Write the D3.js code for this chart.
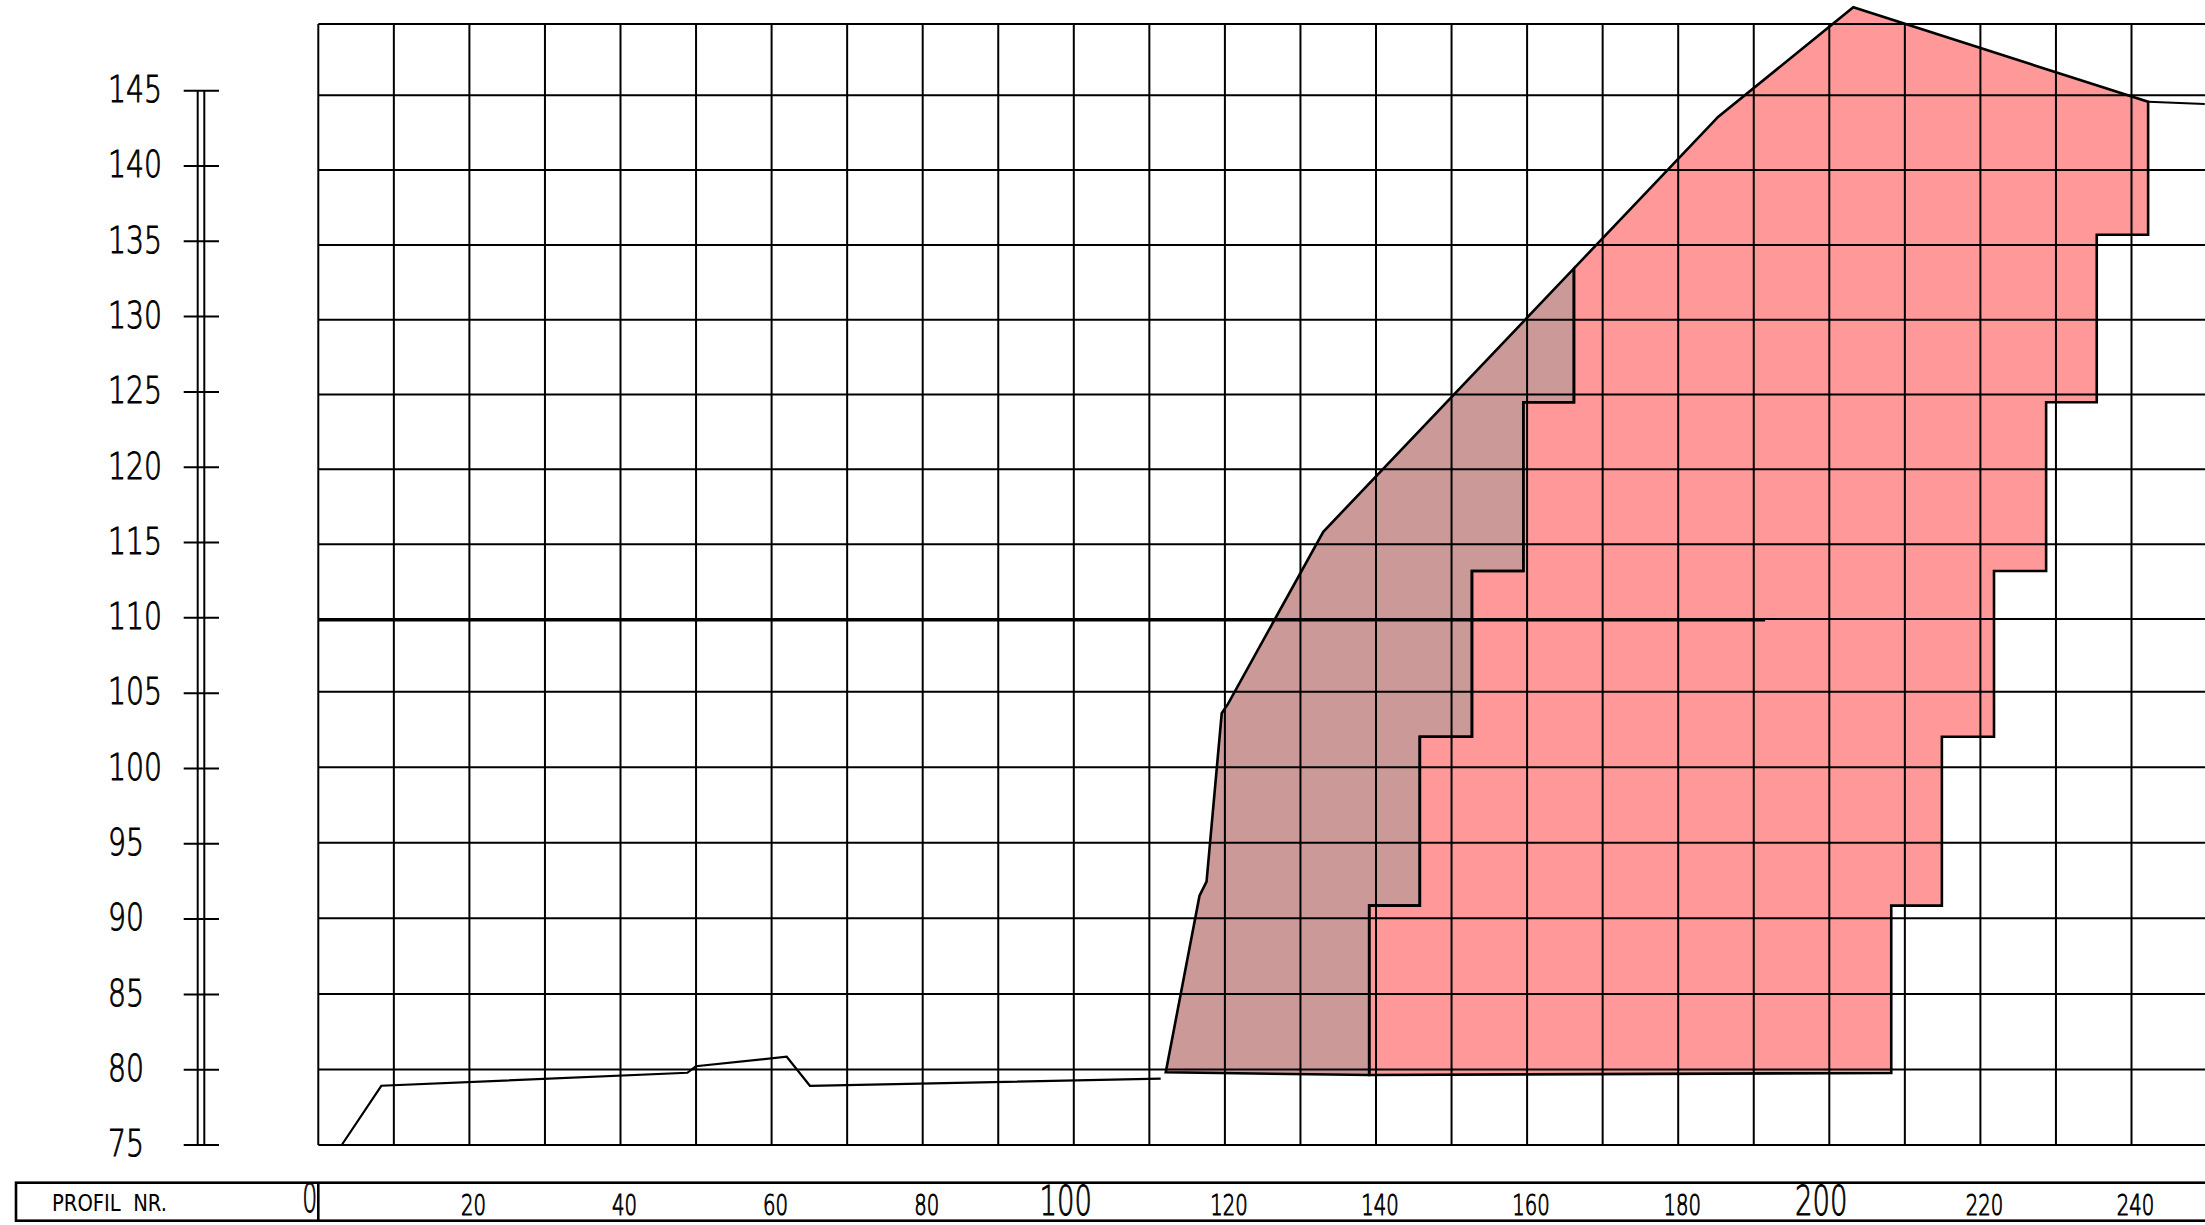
<!DOCTYPE html>
<html>
<head>
<meta charset="utf-8">
<script src="https://cdn.jsdelivr.net/npm/d3@7"></script>
<style>
  html, body { margin: 0; padding: 0; background: #fff; }
  svg { display: block; }
</style>
</head>
<body>
<div id="chart"></div>
<script>
// ---------- data ----------
const xTickValues = [0, 20, 40, 60, 80, 100, 120, 140, 160, 180, 200, 220, 240];
const xTickLabels = ["0", "20", "40", "60", "80", "100", "120", "140", "160", "180", "200", "220", "240"];
const xBigLabels = [0, 100, 200];
const xGridValues = [0, 10, 20, 30, 40, 50, 60, 70, 80, 90, 100, 110, 120, 130, 140, 150, 160, 170, 180, 190, 200, 210, 220, 230, 240, 250];
const yTickValues = [75, 80, 85, 90, 95, 100, 105, 110, 115, 120, 125, 130, 135, 140, 145];
const yTickLabels = ["75", "80", "85", "90", "95", "100", "105", "110", "115", "120", "125", "130", "135", "140", "145"];
const gridTopValue = 149.77;
const rowLabel = "PROFIL  NR.";

// terrain line left of the dam
const groundLine = [[3.1, 75.0], [8.34, 78.92], [48.85, 79.78], [49.97, 80.21], [62.0, 80.84], [65.07, 78.92], [111.5, 79.39]];

// darker (brown) body
const brownArea = [
  [112.17, 79.81], [116.64, 91.5], [117.57, 92.43], [119.58, 103.57], [120.41, 104.19],
  [133.02, 115.83], [166.2, 133.43], [166.2, 124.49], [159.5, 124.49], [159.5, 113.21],
  [152.7, 113.21], [152.7, 102.02], [145.8, 102.02], [145.8, 90.84], [139.1, 90.84], [139.1, 79.63]
];

// pink body
const pinkArea = [
  [139.1, 79.63], [139.1, 90.84], [145.8, 90.84], [145.8, 102.02], [152.7, 102.02], [152.7, 113.21],
  [159.5, 113.21], [159.5, 124.49], [166.2, 124.49], [166.2, 133.43], [185.31, 143.57], [203.18, 150.88],
  [242.2, 144.57], [242.2, 135.68], [235.4, 135.68], [235.4, 124.49], [228.7, 124.49], [228.7, 113.21],
  [221.8, 113.21], [221.8, 102.02], [214.9, 102.02], [214.9, 90.84], [208.2, 90.84], [208.2, 79.77]
];

// crest continuation to the right
const crestLine = [[242.2, 144.57], [249.7, 144.42]];

// reference level line
const refLevel = 109.9;
const refEnd = 191.5;

// ---------- layout ----------
const W = 2205, H = 1225;
const FONT = '"DejaVu Sans","Liberation Sans",sans-serif';
const FW = 200;

const x = d3.scaleLinear().domain([0, 240]).range([318.3, 318.3 + 240 * 7.555]);
const y = d3.scaleLinear().domain([75, 105, 110, 145]).range([1145, 691.7, 619, 95.3]);
const yRuler = d3.scaleLinear().domain([75, 145]).range([1145, 90.7]);

const svg = d3.select("#chart").append("svg")
  .attr("width", W).attr("height", H)
  .attr("viewBox", `0 0 ${W} ${H}`);

svg.append("rect").attr("width", W).attr("height", H).attr("fill", "#fff");

const line = d3.line().x(d => x(d[0])).y(d => y(d[1]));

// fills
svg.append("path").attr("d", line(brownArea) + "Z").attr("fill", "#cc9999").attr("stroke", "none");
svg.append("path").attr("d", line(pinkArea) + "Z").attr("fill", "#ff9999").attr("stroke", "none");

// grid
const grid = svg.append("g").attr("stroke", "#000").attr("stroke-width", 2).attr("fill", "none");
grid.selectAll("line.v").data(xGridValues).join("line")
  .attr("class", "v")
  .attr("x1", d => x(d)).attr("x2", d => x(d))
  .attr("y1", y(gridTopValue)).attr("y2", y(75));
grid.selectAll("line.h").data(yTickValues).join("line")
  .attr("class", "h")
  .attr("x1", x(0)).attr("x2", W + 5)
  .attr("y1", d => y(d)).attr("y2", d => y(d));
grid.append("line")
  .attr("x1", x(0)).attr("x2", W + 5)
  .attr("y1", y(gridTopValue)).attr("y2", y(gridTopValue));

// reference level
svg.append("line")
  .attr("x1", x(0)).attr("x2", x(refEnd))
  .attr("y1", y(refLevel)).attr("y2", y(refLevel))
  .attr("stroke", "#000").attr("stroke-width", 2.2);

// outlines
svg.append("path").attr("d", line(brownArea) + "Z").attr("fill", "none")
  .attr("stroke", "#000").attr("stroke-width", 2.6).attr("stroke-linejoin", "miter");
svg.append("path").attr("d", line(pinkArea) + "Z").attr("fill", "none")
  .attr("stroke", "#000").attr("stroke-width", 2.6).attr("stroke-linejoin", "miter");
svg.append("path").attr("d", line(crestLine)).attr("fill", "none")
  .attr("stroke", "#000").attr("stroke-width", 2.2);
svg.append("path").attr("d", line(groundLine)).attr("fill", "none")
  .attr("stroke", "#000").attr("stroke-width", 2.2).attr("stroke-linejoin", "miter");

// ruler (left height axis)
const ruler = svg.append("g").attr("stroke", "#000").attr("stroke-width", 2);
[197.7, 204.3].forEach(rx => {
  ruler.append("line").attr("x1", rx).attr("x2", rx)
    .attr("y1", yRuler(145)).attr("y2", yRuler(75));
});
ruler.selectAll("line.t").data(yTickValues).join("line")
  .attr("class", "t")
  .attr("x1", 183.7).attr("x2", 219)
  .attr("y1", d => yRuler(d)).attr("y2", d => yRuler(d));

svg.append("g").selectAll("text").data(yTickValues).join("text")
  .attr("x", 108)
  .attr("y", d => yRuler(d) + 11.3)
  .attr("font-family", FONT)
  .attr("font-weight", FW)
  .attr("font-size", 37)
  .attr("textLength", (d, i) => yTickLabels[i].length * 18)
  .attr("lengthAdjust", "spacingAndGlyphs")
  .attr("fill", "#000")
  .attr("stroke", "#000").attr("stroke-width", 0.9)
  .text((d, i) => yTickLabels[i]);

// bottom row
svg.append("rect")
  .attr("x", 16).attr("y", 1182.7)
  .attr("width", W + 20 - 16).attr("height", 38)
  .attr("fill", "none").attr("stroke", "#000").attr("stroke-width", 2.6);
svg.append("line")
  .attr("x1", x(0)).attr("x2", x(0))
  .attr("y1", 1182.7).attr("y2", 1220.7)
  .attr("stroke", "#000").attr("stroke-width", 2.6);

svg.append("text")
  .attr("x", 52).attr("y", 1210.7)
  .attr("font-family", FONT)
  .attr("font-weight", 400)
  .attr("font-size", 22.5)
  .attr("textLength", 115)
  .attr("lengthAdjust", "spacingAndGlyphs")
  .attr("fill", "#000")
  .style("white-space", "pre")
  .text(rowLabel);

const xl = svg.append("g").attr("font-family", FONT).attr("font-weight", FW)
  .attr("fill", "#000").attr("stroke", "#000");
xTickValues.forEach((v, i) => {
  const big = xBigLabels.includes(v);
  const lab = xTickLabels[i];
  const t = xl.append("text").text(lab).attr("lengthAdjust", "spacingAndGlyphs");
  if (v === 0) {
    t.attr("x", x(v) - 16).attr("y", 1211.7).attr("font-size", 39)
      .attr("textLength", 15).attr("stroke-width", 0.9);
  } else if (big) {
    t.attr("x", x(v) - 8).attr("y", 1215).attr("text-anchor", "middle").attr("font-size", 40)
      .attr("textLength", lab.length * 17.5).attr("stroke-width", 0.9);
  } else {
    t.attr("x", x(v) + 4).attr("y", 1215).attr("text-anchor", "middle").attr("font-size", 28.5)
      .attr("textLength", lab.length * 12.5).attr("stroke-width", 1.0);
  }
});
</script>
</body>
</html>
